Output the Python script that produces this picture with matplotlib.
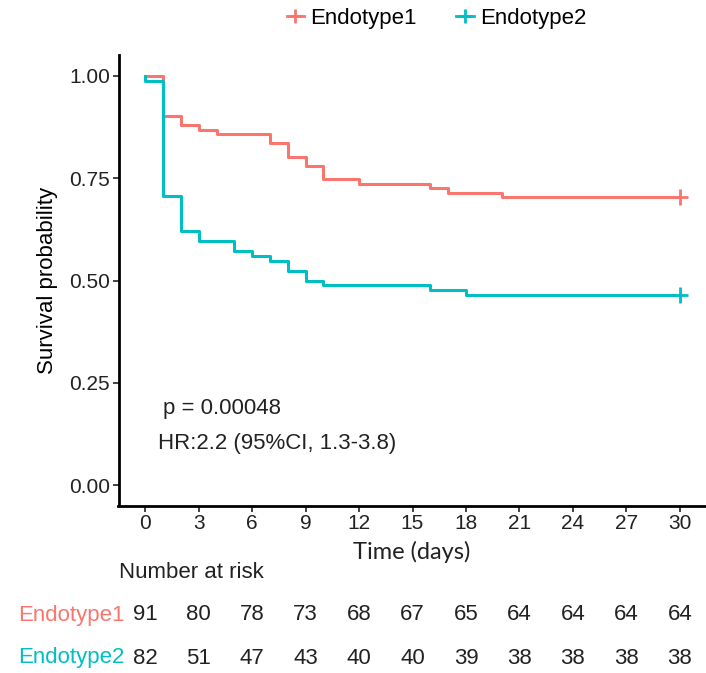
import matplotlib.pyplot as plt
import numpy as np
from matplotlib.lines import Line2D
from matplotlib.transforms import blended_transform_factory

plt.rcParams['font.family'] = ['Liberation Sans', 'DejaVu Sans']

# Group names and colours (ggplot defaults)
groups = ['Endotype1', 'Endotype2']
colors = ['#F8766D', '#00BFC4']

# Group sizes and deaths per day
n_start = [91, 82]
event_days = [
    [1, 2, 3, 4, 7, 8, 9, 10, 12, 16, 17, 20],
    [0, 1, 2, 3, 5, 6, 7, 8, 9, 10, 16, 18],
]
event_counts = [
    [9, 2, 1, 1, 2, 3, 2, 3, 1, 1, 1, 1],
    [1, 23, 7, 2, 2, 1, 1, 2, 2, 1, 1, 1],
]
follow_up = 30

# Number at risk table
risk_times = [0, 3, 6, 9, 12, 15, 18, 21, 24, 27, 30]
at_risk = [
    [91, 80, 78, 73, 68, 67, 65, 64, 64, 64, 64],
    [82, 51, 47, 43, 40, 40, 39, 38, 38, 38, 38],
]

p_text = 'p = 0.00048'
hr_text = 'HR:2.2 (95%CI, 1.3-3.8)'

W, H = 706, 673
fig = plt.figure(figsize=(W / 100, H / 100), dpi=100)
ax = fig.add_axes([118.5 / W, 1 - 505.5 / H, 588 / W, 450 / H])

for i, (name, col, n, days, counts) in enumerate(
        zip(groups, colors, n_start, event_days, event_counts)):
    surv = 1 - np.cumsum(counts) / n
    t = [0] + days + [follow_up]
    s = [1.0] + list(surv) + [surv[-1]]
    ax.step(t, s, where='post', color=col, lw=2.2, zorder=2 + i)
    ax.plot([follow_up], [surv[-1]], marker='+', ms=11, mew=2, color=col, zorder=2 + i)

ax.set_xlim(-1.5, 31.5)
ax.set_ylim(-0.05, 1.05)
ax.set_xticks(risk_times)
ax.set_yticks([0, 0.25, 0.5, 0.75, 1.0])
ax.set_yticklabels(['0.00', '0.25', '0.50', '0.75', '1.00'])
ax.tick_params(labelsize=15, length=4, width=1.2, pad=2, colors='#222222')
for side in ['top', 'right']:
    ax.spines[side].set_visible(False)
for side in ['left', 'bottom']:
    ax.spines[side].set_linewidth(2)
ax.set_ylabel('Survival probability', fontsize=16, labelpad=8)

ax.text(1.0, 0.1875, p_text, fontsize=16, va='center', color='#222222')
ax.text(0.7, 0.102, hr_text, fontsize=16, va='center', color='#222222')

# Legend across the top
handles = [Line2D([], [], color=c, lw=2, marker='+', ms=10, mew=2) for c in colors]
fig.legend(handles, groups, loc='center', bbox_to_anchor=(0.618, 0.973), ncol=2,
           frameon=False, fontsize=16, handlelength=0.8, handletextpad=0.25,
           columnspacing=1.8)

# Axis title and risk table below the plot
fig.text(412 / W, 1 - 552 / H, 'Time (days)', fontsize=17, family='Lato',
         ha='center', va='center', color='#222222')
fig.text(119 / W, 1 - 573 / H, 'Number at risk', fontsize=16, ha='left', va='center',
         color='#222222')
tr = blended_transform_factory(ax.transData, fig.transFigure)
row_y = [1 - 615 / H, 1 - 658 / H]
for name, col, counts, y in zip(groups, colors, at_risk, row_y):
    fig.text(125 / W, y, name, fontsize=16, color=col, ha='right', va='center')
    for t, c in zip(risk_times, counts):
        ax.text(t, y, str(c), transform=tr, fontsize=16, ha='center', va='center',
                color='#222222', clip_on=False)

fig.savefig('out.png', dpi=100)
